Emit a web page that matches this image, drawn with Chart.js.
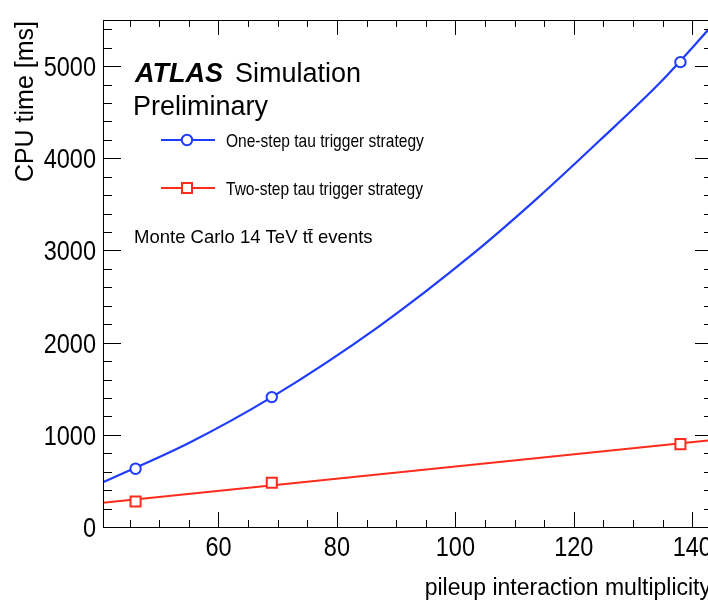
<!DOCTYPE html>
<html>
<head>
    <style>
        html, body { margin: 0; padding: 0; overflow: hidden; background: #fff; }
        #chart-container { width: 713px; height: 603px; }
        canvas { display: block; }
    </style>
    <script src="https://cdn.jsdelivr.net/npm/chart.js"></script>
</head>
<body>
    <div id="chart-container">
        <canvas id="cpuChart" width="713" height="603"></canvas>
    </div>

    <script>
        // measured points (pileup, CPU time in ms)
        const pileup = [46, 69, 138];
        const oneStep = [632, 1409, 5043];
        const twoStep = [277, 480, 899];

        // fitted curves
        const oneStepFitX = [40.5, 55, 69, 87, 103, 114, 124.4, 134.7, 143.5];
        const oneStepFitY = [486, 912, 1409, 2172, 2965, 3576, 4195, 4830, 5450];
        const twoStepFitX = [40.5, 143.5];
        const twoStepFitY = [263, 944];

        const xTicks = [60, 80, 100, 120, 140];
        const yTicks = [0, 1000, 2000, 3000, 4000, 5000];

        const blue = '#1f3cff';
        const red = '#ff2b1c';
        const sans = "'Liberation Sans', Arial, sans-serif";

        const pts = (xs, ys) => xs.map((x, i) => ({ x: x, y: ys[i] }));

        // condensed text: no narrow face installed, so squeeze the regular one
        function narrowText(ctx, txt, x, y, sx) {
            ctx.save();
            ctx.translate(x, y);
            ctx.scale(sx, 1);
            ctx.fillText(txt, 0, 0);
            ctx.restore();
        }

        // frame, inward ticks, labels and legend drawn the ROOT way
        const atlasFrame = {
            id: 'atlasFrame',
            afterDraw(chart) {
                const ctx = chart.ctx;
                const a = chart.chartArea;
                const xs = chart.scales.x, ys = chart.scales.y;
                ctx.save();
                ctx.strokeStyle = '#000';
                ctx.lineWidth = 1;
                ctx.strokeRect(a.left + 0.5, a.top + 0.5, a.right - a.left, a.bottom - a.top);

                ctx.beginPath();
                for (let v = 45; v <= 143; v += 5) {
                    const px = Math.round(xs.getPixelForValue(v)) + 0.5;
                    const len = v % 20 === 0 ? 15 : 7;
                    ctx.moveTo(px, a.bottom); ctx.lineTo(px, a.bottom - len);
                    ctx.moveTo(px, a.top); ctx.lineTo(px, a.top + len);
                }
                for (let v = 200; v < 5500; v += 200) {
                    const py = Math.round(ys.getPixelForValue(v)) + 0.5;
                    const len = v % 1000 === 0 ? 18 : 9;
                    ctx.moveTo(a.left, py); ctx.lineTo(a.left + len, py);
                    ctx.moveTo(a.right, py); ctx.lineTo(a.right - len, py);
                }
                ctx.stroke();

                ctx.fillStyle = '#000';
                ctx.font = '28px ' + sans;
                ctx.textAlign = 'center';
                ctx.textBaseline = 'alphabetic';
                xTicks.forEach(v => narrowText(ctx, String(v), xs.getPixelForValue(v), 556, 0.84));
                ctx.textAlign = 'right';
                yTicks.forEach(v => narrowText(ctx, String(v), 96, ys.getPixelForValue(v) + 10, 0.84));

                // axis titles
                ctx.font = '23px ' + sans;
                ctx.textAlign = 'right';
                ctx.fillText('pileup interaction multiplicity', 711, 595);
                ctx.save();
                ctx.font = '25px ' + sans;
                ctx.translate(33, 21);
                ctx.rotate(-Math.PI / 2);
                ctx.fillText('CPU time [ms]', 0, 0);
                ctx.restore();

                // ATLAS label
                ctx.textAlign = 'left';
                ctx.font = 'italic bold 27px ' + sans;
                ctx.fillText('ATLAS', 135, 82);
                ctx.font = '27px ' + sans;
                ctx.fillText('Simulation', 235, 82);
                ctx.fillText('Preliminary', 133, 115);

                // legend
                const entries = [
                    { label: 'One-step tau trigger strategy', color: blue, y: 140, shape: 'circle' },
                    { label: 'Two-step tau trigger strategy', color: red, y: 188, shape: 'rect' }
                ];
                entries.forEach(e => {
                    ctx.strokeStyle = e.color;
                    ctx.lineWidth = 2;
                    ctx.beginPath();
                    ctx.moveTo(161, e.y); ctx.lineTo(215, e.y);
                    ctx.stroke();
                    ctx.fillStyle = '#fff';
                    ctx.beginPath();
                    if (e.shape === 'circle') ctx.arc(187, e.y, 5.2, 0, Math.PI * 2);
                    else ctx.rect(182, e.y - 5, 10, 10);
                    ctx.fill(); ctx.stroke();
                    ctx.fillStyle = '#000';
                    ctx.font = '18.5px ' + sans;
                    narrowText(ctx, e.label, 226, e.y + 7, 0.84);
                });

                ctx.font = '18.5px ' + sans;
                ctx.fillText('Monte Carlo 14 TeV tt\u0304 events', 134, 243);
                ctx.restore();
            }
        };

        const ctx = document.getElementById('cpuChart').getContext('2d');
        new Chart(ctx, {
            type: 'scatter',
            data: {
                datasets: [
                    {
                        label: 'One-step fit',
                        data: pts(oneStepFitX, oneStepFitY),
                        showLine: true,
                        borderColor: blue,
                        borderWidth: 2.2,
                        pointRadius: 0,
                        cubicInterpolationMode: 'monotone',
                        order: 2
                    },
                    {
                        label: 'Two-step fit',
                        data: pts(twoStepFitX, twoStepFitY),
                        showLine: true,
                        borderColor: red,
                        borderWidth: 2.2,
                        pointRadius: 0,
                        order: 2
                    },
                    {
                        label: 'One-step tau trigger strategy',
                        data: pts(pileup, oneStep),
                        pointStyle: 'circle',
                        pointRadius: 5.2,
                        pointBorderWidth: 2,
                        borderColor: blue,
                        backgroundColor: '#fff',
                        order: 1
                    },
                    {
                        label: 'Two-step tau trigger strategy',
                        data: pts(pileup, twoStep),
                        pointStyle: 'rect',
                        pointRadius: 7.1,
                        pointBorderWidth: 2,
                        borderColor: red,
                        backgroundColor: '#fff',
                        order: 1
                    }
                ]
            },
            options: {
                responsive: false,
                animation: false,
                events: [],
                layout: { autoPadding: false, padding: { left: 103, top: 20, right: 0, bottom: 76 } },
                plugins: { legend: { display: false }, tooltip: { enabled: false } },
                scales: {
                    x: { type: 'linear', min: 40.5, max: 143.5, display: false },
                    y: { type: 'linear', min: 0, max: 5500, display: false }
                }
            },
            plugins: [atlasFrame]
        });
    </script>
</body>
</html>
